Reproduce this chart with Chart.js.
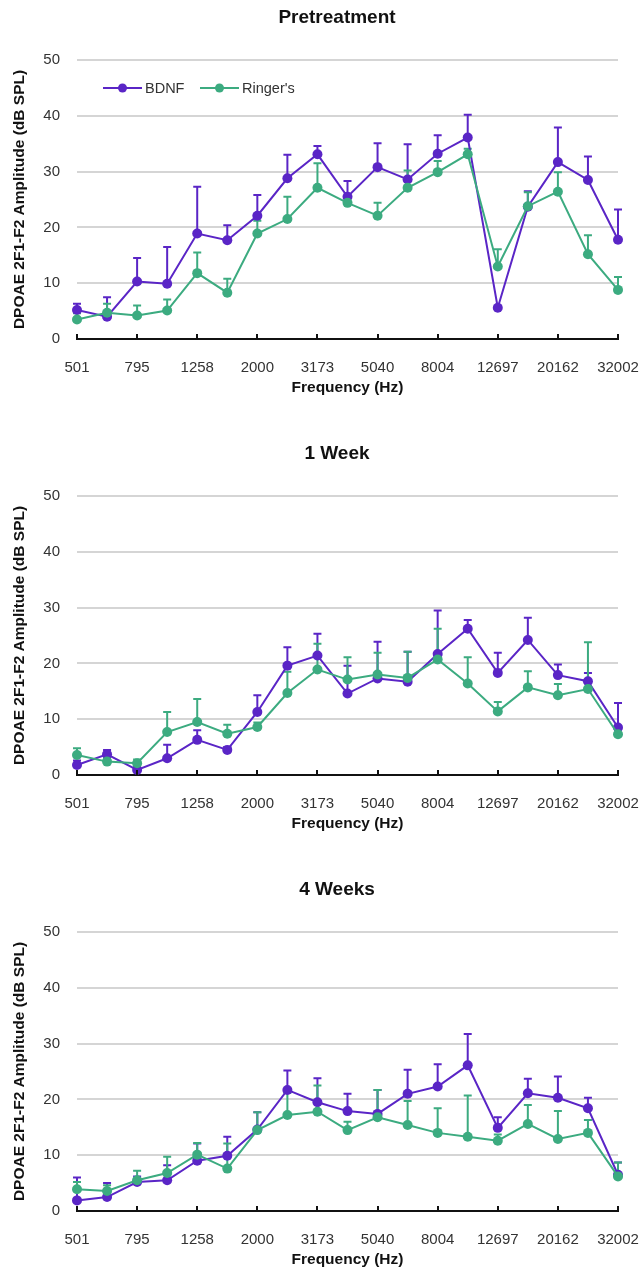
<!DOCTYPE html>
<html>
<head>
<meta charset="utf-8">
<title>DPOAE 2F1-F2 Amplitude</title>
<script src="https://cdn.jsdelivr.net/npm/chart.js@4.4.1/dist/chart.umd.min.js"></script>
<style>
  html, body { margin: 0; padding: 0; background: #fff; width: 639px; height: 1270px; overflow: hidden; }
  .panel { position: absolute; left: 0; width: 639px; height: 400px; }
  canvas { display: block; }
</style>
</head>
<body>
<div class="panel" style="top:0px"><canvas id="c0" width="639" height="400"></canvas></div>
<div class="panel" style="top:436px"><canvas id="c1" width="639" height="400"></canvas></div>
<div class="panel" style="top:872px"><canvas id="c2" width="639" height="400"></canvas></div>
<script>
// f2 frequencies (Hz); every other one is labelled on the axis
const frequencies = ['501', '631', '795', '1000', '1258', '1586', '2000', '2519', '3173', '3999',
                     '5040', '6351', '8004', '10081', '12697', '16000', '20162', '25401', '32002'];

const panelTitles = ['Pretreatment', '1 Week', '4 Weeks'];
const seriesNames = ['BDNF', "Ringer's"];

// Pretreatment: mean and upper error (dB SPL)
const preBDNF       = [5.2, 4.0, 10.3, 9.9, 18.9, 17.7, 22.1, 28.8, 33.1, 25.5, 30.8, 28.6, 33.2, 36.1, 5.6, 23.7, 31.7, 28.5, 17.8];
const preBDNFErr    = [1.1, 3.5, 4.2, 6.6, 8.4, 2.7, 3.7, 4.2, 1.5, 2.8, 4.3, 6.3, 3.3, 4.1, 0.0, 2.8, 6.2, 4.2, 5.4];
const preRinger     = [3.5, 4.7, 4.2, 5.1, 11.8, 8.3, 18.9, 21.5, 27.1, 24.4, 22.1, 27.1, 29.9, 33.1, 13.0, 23.8, 26.4, 15.2, 8.8];
const preRingerErr  = [1.1, 1.6, 1.8, 2.0, 3.7, 2.5, 2.3, 4.0, 4.4, 1.2, 2.3, 3.1, 2.0, 1.0, 3.1, 2.5, 3.5, 3.4, 2.3];

// 1 week
const wk1BDNF       = [1.8, 3.7, 0.9, 3.0, 6.3, 4.5, 11.3, 19.6, 21.4, 14.6, 17.3, 16.7, 21.7, 26.2, 18.3, 24.2, 17.9, 16.8, 8.5];
const wk1BDNFErr    = [0.8, 0.8, 0.6, 2.4, 1.7, 0.5, 3.0, 3.3, 3.9, 5.0, 6.6, 5.4, 7.8, 1.6, 3.6, 4.0, 1.9, 1.5, 4.4];
const wk1Ringer     = [3.6, 2.4, 2.1, 7.7, 9.5, 7.4, 8.6, 14.7, 18.9, 17.1, 18.0, 17.4, 20.7, 16.4, 11.4, 15.7, 14.3, 15.4, 7.3];
const wk1RingerErr  = [1.2, 0.6, 0.7, 3.6, 4.1, 1.6, 0.8, 3.8, 4.6, 4.0, 3.9, 4.7, 5.5, 4.7, 1.7, 2.9, 2.0, 8.4, 0.8];

// 4 weeks
const wk4BDNF       = [1.9, 2.5, 5.2, 5.5, 9.0, 9.9, 14.6, 21.7, 19.5, 17.9, 17.4, 21.0, 22.3, 26.1, 14.9, 21.1, 20.3, 18.4, 6.5];
const wk4BDNFErr    = [4.1, 2.5, 1.0, 2.7, 3.1, 3.4, 3.1, 3.5, 4.3, 3.1, 4.3, 4.3, 4.0, 5.6, 1.9, 2.6, 3.8, 1.9, 2.2];
const wk4Ringer     = [3.9, 3.6, 5.5, 6.8, 10.1, 7.6, 14.5, 17.2, 17.8, 14.5, 16.8, 15.4, 14.0, 13.3, 12.6, 15.6, 12.9, 14.0, 6.2];
const wk4RingerErr  = [1.3, 1.0, 1.7, 2.9, 2.1, 4.5, 3.2, 4.0, 4.7, 1.5, 4.9, 4.3, 4.4, 7.4, 1.1, 3.4, 5.0, 2.3, 2.5];

const yTicks = [0, 10, 20, 30, 40, 50];

const BDNF_COLOR = '#5a25c6';
const RINGER_COLOR = '#3cab80';
const FONT = '"Liberation Sans", Arial, Helvetica, sans-serif';

// Upper error whiskers with caps, drawn beneath the lines and markers
const errorBars = {
  id: 'errorBars',
  beforeDatasetsDraw(chart) {
    const ctx = chart.ctx;
    const yScale = chart.scales.y;
    const sets = chart.data.datasets.map((ds, i) => ({ ds, i })).sort((a, b) => b.ds.order - a.ds.order);
    sets.forEach(({ ds, i }) => {
      const meta = chart.getDatasetMeta(i);
      ctx.save();
      ctx.strokeStyle = ds.borderColor;
      ctx.lineWidth = 2;
      meta.data.forEach((pt, j) => {
        const err = ds.errorUp[j];
        if (!err) return;
        const yTop = yScale.getPixelForValue(ds.data[j] + err);
        ctx.beginPath();
        ctx.moveTo(pt.x, pt.y);
        ctx.lineTo(pt.x, yTop);
        ctx.moveTo(pt.x - 4, yTop);
        ctx.lineTo(pt.x + 4, yTop);
        ctx.stroke();
      });
      ctx.restore();
    });
  }
};

// Small inward tick marks on the frequency axis at labelled positions
const axisTicks = {
  id: 'axisTicks',
  afterDraw(chart) {
    const ctx = chart.ctx;
    const xScale = chart.scales.x;
    const yBase = chart.chartArea.bottom;
    ctx.save();
    ctx.strokeStyle = '#111';
    ctx.lineWidth = 2;
    for (let i = 0; i < frequencies.length; i += 2) {
      const x = Math.round(xScale.getPixelForValue(i));
      ctx.beginPath();
      ctx.moveTo(x, yBase - 5);
      ctx.lineTo(x, yBase);
      ctx.stroke();
    }
    ctx.restore();
  }
};

// Panel heading, set slightly left of the plot centre
const panelHeading = {
  id: 'panelHeading',
  afterDraw(chart, args, opts) {
    const ctx = chart.ctx;
    ctx.save();
    ctx.font = 'bold 19px ' + FONT;
    ctx.fillStyle = '#111';
    ctx.textAlign = 'center';
    ctx.textBaseline = 'middle';
    ctx.fillText(opts.text, 337, 18);
    ctx.restore();
  }
};

// Legend drawn inside the plot area (first panel only)
const insideLegend = {
  id: 'insideLegend',
  afterDraw(chart) {
    const ctx = chart.ctx;
    const y = 88;
    const starts = [103, 200];
    ctx.save();
    ctx.font = '14.5px ' + FONT;
    ctx.textBaseline = 'middle';
    ctx.textAlign = 'left';
    seriesNames.forEach((name, k) => {
      const color = k === 0 ? BDNF_COLOR : RINGER_COLOR;
      const x0 = starts[k];
      ctx.strokeStyle = color;
      ctx.lineWidth = 2;
      ctx.beginPath();
      ctx.moveTo(x0, y);
      ctx.lineTo(x0 + 39, y);
      ctx.stroke();
      ctx.fillStyle = color;
      ctx.beginPath();
      ctx.arc(x0 + 19.5, y, 4.5, 0, Math.PI * 2);
      ctx.fill();
      ctx.fillStyle = '#333';
      ctx.fillText(name, x0 + 42, y + 1);
    });
    ctx.restore();
  }
};

function makeChart(id, title, bdnf, bdnfErr, ringer, ringerErr, withLegend) {
  const series = (label, data, err, color, order) => ({
    label, data, errorUp: err, order,
    borderColor: color, backgroundColor: color,
    pointBackgroundColor: color, pointBorderColor: color,
    borderWidth: 2, pointRadius: 5, pointBorderWidth: 0, pointHoverRadius: 5,
    tension: 0, clip: false
  });
  const plugins = [errorBars, axisTicks, panelHeading];
  if (withLegend) plugins.push(insideLegend);
  return new Chart(document.getElementById(id), {
    type: 'line',
    data: {
      labels: frequencies,
      datasets: [
        series(seriesNames[0], bdnf, bdnfErr, BDNF_COLOR, 2),
        series(seriesNames[1], ringer, ringerErr, RINGER_COLOR, 1)
      ]
    },
    plugins,
    options: {
      responsive: false,
      animation: false,
      events: [],
      layout: { padding: { top: 60, left: 0, right: 0, bottom: 0 } },
      plugins: {
        legend: { display: false },
        tooltip: { enabled: false },
        title: { display: false },
        panelHeading: { text: title }
      },
      scales: {
        x: {
          type: 'category',
          offset: false,
          afterFit: s => { s.height = 61; s.paddingLeft = 0; s.paddingRight = 21; },
          grid: { display: false },
          border: { display: true, color: '#111', width: 2 },
          ticks: {
            autoSkip: false,
            maxRotation: 0,
            padding: 12,
            color: '#333',
            font: { family: FONT, size: 15 },
            callback: function (v, i) { return i % 2 === 0 ? this.getLabelForValue(v) : null; }
          },
          title: {
            display: true,
            text: 'Frequency (Hz)',
            color: '#111',
            font: { family: FONT, size: 15.5, weight: 'bold' },
            padding: { top: 0, bottom: 3 }
          }
        },
        y: {
          min: yTicks[0],
          max: yTicks[yTicks.length - 1],
          afterFit: s => { s.width = 77; },
          afterBuildTicks: s => { s.ticks = yTicks.map(v => ({ value: v })); },
          grid: { color: '#d5d5d5', lineWidth: 2, drawTicks: false },
          border: { display: false },
          ticks: {
            padding: 17,
            color: '#333',
            font: { family: FONT, size: 15 }
          },
          title: {
            display: true,
            text: 'DPOAE 2F1-F2 Amplitude (dB SPL)',
            color: '#111',
            font: { family: FONT, size: 15.5, weight: 'bold' },
            padding: { top: 10, bottom: 0 }
          }
        }
      }
    }
  });
}

makeChart('c0', panelTitles[0], preBDNF, preBDNFErr, preRinger, preRingerErr, true);
makeChart('c1', panelTitles[1], wk1BDNF, wk1BDNFErr, wk1Ringer, wk1RingerErr, false);
makeChart('c2', panelTitles[2], wk4BDNF, wk4BDNFErr, wk4Ringer, wk4RingerErr, false);
</script>
</body>
</html>
